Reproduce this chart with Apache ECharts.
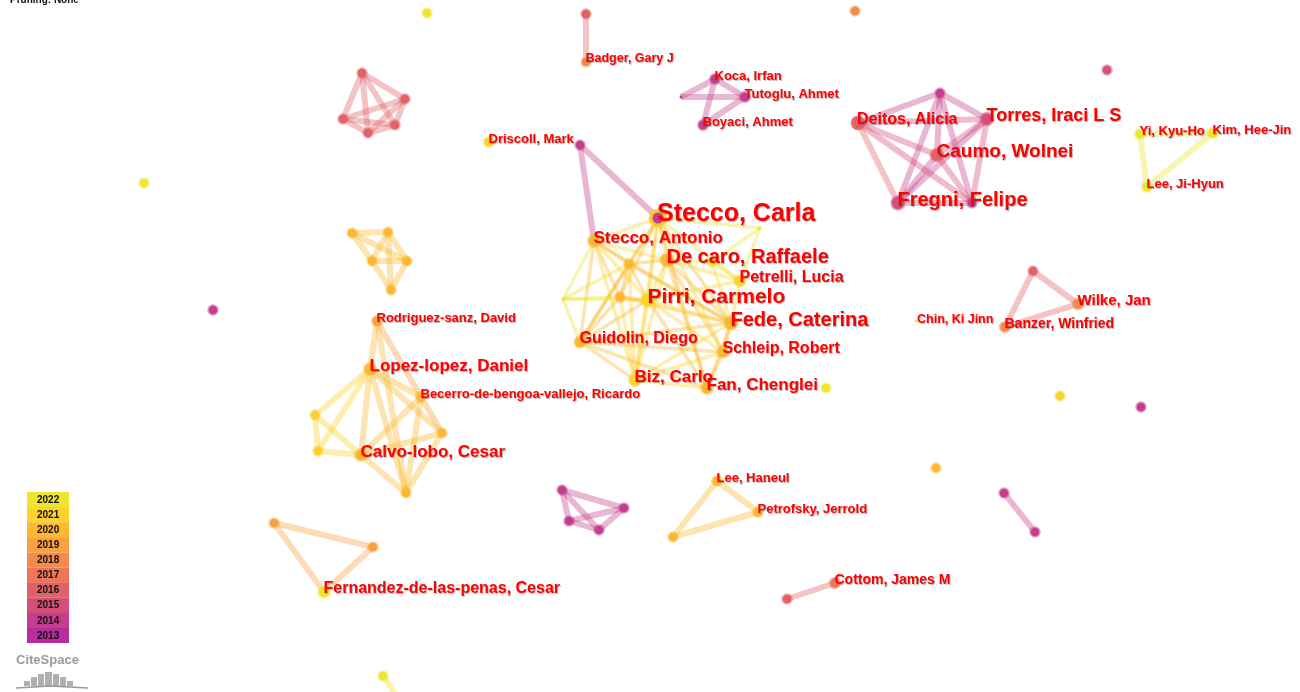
<!DOCTYPE html>
<html>
<head>
<meta charset="utf-8">
<script src="https://cdn.jsdelivr.net/npm/echarts@6/dist/echarts.min.js"></script>
<style>
html,body{margin:0;padding:0;background:#fff;}
#chart{width:1300px;height:692px;}
</style>
</head>
<body>
<div id="chart"></div>
<script>
// ---- data ----
const nodeLabels = [
 'Stecco, Carla','Stecco, Antonio','','De caro, Raffaele','','Petrelli, Lucia','','',
 'Pirri, Carmelo','Fede, Caterina','Guidolin, Diego','Schleip, Robert','Biz, Carlo','Fan, Chenglei','','',
 '','Driscoll, Mark','Badger, Gary J','','','','','',
 '','Koca, Irfan','Tutoglu, Ahmet','Boyaci, Ahmet','','','Deitos, Alicia','Torres, Iraci L S',
 'Caumo, Wolnei','Fregni, Felipe','','Yi, Kyu-Ho','Kim, Hee-Jin','Lee, Ji-Hyun','','',
 '','','','','','','','',
 'Rodriguez-sanz, David','Lopez-lopez, Daniel','Becerro-de-bengoa-vallejo, Ricardo','','','','Calvo-lobo, Cesar','',
 '','Wilke, Jan','Banzer, Winfried','Chin, Ki Jinn','','','','',
 '','','','','','Lee, Haneul','Petrofsky, Jerrold','',
 'Cottom, James M','','','','Fernandez-de-las-penas, Cesar','',''
];
// layout coordinates of the network (CiteSpace map space)
const nodeX = [
 658,594,629,667,712,740,563,620, 648,731,580,723,635,707,760,826,
 580,489,586,586,427,855,1107,144, 213,715,745,703,681,940,858,987,
 937,898,972,1140,1213,1147,362,405, 343,368,395,352,388,372,407,391,
 377,370,421,315,442,318,361,406, 1033,1078,1005,916,1060,1141,936,1004,
 1035,562,624,569,599,717,758,673, 835,787,274,373,324,383,398
];
const nodeY = [
 218,241,264,260,262,281,299,297, 300,323,342,352,380,388,228,388,
 145,142,62,14,13,11,70,183, 310,79,97,125,97,93,123,119,
 155,203,203,134,133,187,73,99, 119,133,125,233,232,261,261,290,
 321,369,397,415,433,451,455,493, 271,304,327,321,396,407,468,493,
 532,490,508,521,530,481,512,537, 583,599,523,547,592,676,698
];
// first-appearance year of each author
const nodeYear = [
 2021,2020,2020,2020,2022,2021,2022,2020, 2021,2020,2020,2020,2021,2020,2022,2022,
 2014,2021,2018,2016,2022,2018,2015,2022, 2014,2014,2014,2014,2014,2014,2016,2015,
 2016,2015,2014,2022,2022,2022,2016,2016, 2016,2016,2016,2020,2020,2020,2020,2020,
 2019,2020,2020,2021,2020,2021,2020,2020, 2016,2018,2018,2022,2021,2014,2020,2014,
 2014,2014,2014,2014,2014,2020,2020,2020, 2017,2016,2019,2019,2022,2022,2022
];
// publication counts
const nodeCount = [
 16,8,4,11,3,7,0,4, 12,11,7,7,8,8,0,3,
 3,4,2,3,3,3,3,3, 3,4,4,4,0,3,7,9,
 10,11,3,4,4,4,3,3, 3,3,3,3,3,3,3,3,
 4,8,4,3,3,3,8,3, 3,6,5,0,3,3,3,3,
 3,3,3,3,3,4,4,3, 5,3,3,3,7,3,0
];
// earliest citing year in the centre ring (where it differs)
const innerYear = {0:2014, 30:2016};
// co-authorship links: [source, target, year]
const links = [
 [0,1,2021],[0,2,2021],[0,3,2021],[0,7,2020],[0,8,2021],[0,9,2020],[0,10,2020],[0,12,2021],[0,13,2020],[0,11,2021],[0,5,2022],[0,14,2022],
 [1,2,2020],[1,3,2021],[1,7,2020],[1,8,2021],[1,9,2020],[1,10,2020],[1,12,2021],
 [2,3,2020],[2,7,2020],[2,8,2020],[2,9,2020],[2,10,2020],[2,12,2021],[2,6,2022],
 [3,4,2022],[3,5,2021],[3,8,2021],[3,9,2020],[3,11,2020],[3,12,2021],[3,13,2020],
 [4,5,2022],[4,14,2022],[4,9,2022],[5,8,2021],[5,9,2021],[5,14,2022],
 [6,7,2022],[6,8,2022],[6,10,2022],[6,1,2022],
 [7,8,2020],[7,9,2020],[7,10,2020],[7,12,2021],
 [8,9,2021],[8,10,2020],[8,11,2021],[8,12,2021],[8,13,2020],
 [9,10,2020],[9,11,2020],[9,12,2021],[9,13,2020],
 [10,12,2020],[10,13,2020],[10,11,2020],[11,12,2021],[11,13,2020],[12,13,2021],
 [16,0,2014],[16,1,2014],
 [18,19,2016],
 [28,25,2014],[28,26,2014],[25,26,2014],[25,27,2014],[26,27,2014],
 [29,30,2014],[29,31,2014],[29,32,2014],[29,33,2014],[29,34,2014],[30,31,2015],[30,32,2015],[30,33,2016],[30,34,2015],
 [31,32,2015],[31,33,2014],[31,34,2015],[32,33,2014],[32,34,2015],[33,34,2015],
 [35,36,2022],[36,37,2022],[35,37,2022],
 [38,39,2016],[38,40,2016],[38,41,2016],[38,42,2016],[39,40,2016],[39,41,2016],[39,42,2016],[40,41,2016],[40,42,2016],[41,42,2016],
 [43,44,2020],[43,45,2020],[43,46,2020],[44,45,2020],[44,46,2020],[44,47,2020],[45,46,2020],[45,47,2020],[46,47,2020],
 [48,49,2020],[48,52,2019],[48,55,2020],[49,50,2020],[49,51,2021],[49,53,2021],[49,54,2020],[49,55,2020],[49,52,2020],
 [50,54,2020],[50,55,2020],[51,53,2021],[51,54,2021],[53,54,2021],[54,55,2020],[52,55,2020],[52,54,2020],
 [56,57,2016],[56,58,2016],[57,58,2016],
 [63,64,2014],
 [65,66,2014],[65,67,2014],[65,68,2014],[66,67,2014],[66,68,2014],[67,68,2014],
 [69,70,2020],[69,71,2020],[70,71,2020],
 [72,73,2016],
 [74,75,2019],[74,76,2019],[75,76,2019],
 [77,78,2022]
];
const legendYears = [2022,2021,2020,2019,2018,2017,2016,2015,2014,2013];

// ---- styles ----
const yearColor = {2013:'#b52d9e',2014:'#c43e8e',2015:'#d4507a',2016:'#e16167',2017:'#ec7657',
  2018:'#f38b4c',2019:'#f9a040',2020:'#fbb830',2021:'#fcd22c',2022:'#ede52f'};
function rgba(hex,a){const n=parseInt(hex.slice(1),16);return 'rgba('+(n>>16)+','+((n>>8)&255)+','+(n&255)+','+a+')';}

const nodes = nodeLabels.map((lab,i)=>{
  const c = nodeCount[i];
  const size = c===0 ? 3 : 7 + 0.5*c;
  const font = Math.max(12.5, 9 + c);
  const col = yearColor[nodeYear[i]];
  const inner = innerYear[i] ? yearColor[innerYear[i]] : col;
  return {
    name:'n'+i,
    value:[nodeX[i],nodeY[i]],
    symbolSize:size,
    itemStyle:{color:inner,borderColor:rgba(col, innerYear[i]?0.9:0.5),borderWidth:c===0?0:(innerYear[i]?4:3)},
    label:{show:!!lab,formatter:lab,position:[size/2+1,size/2-1.5],align:'left',verticalAlign:'middle',
      fontSize:font,fontWeight:'bold',color:'#ff0000',fontFamily:'"Liberation Sans", Arial, sans-serif',
      textShadowColor:'rgba(90,90,90,0.45)',textShadowBlur:1,textShadowOffsetX:1,textShadowOffsetY:1}
  };
});
const edges = links.map(([s,t,y])=>({
  source:'n'+s,target:'n'+t,
  lineStyle:{color:yearColor[y],width:(s<=15&&t<=15)?3.5:6,opacity:0.38,curveness:0}
}));

const legendGraphics = [];
legendYears.forEach((y,k)=>{
  legendGraphics.push({type:'rect',left:27,top:492+k*15.1,shape:{width:42,height:15.2},style:{fill:yearColor[y]},silent:true});
  legendGraphics.push({type:'text',left:37,top:492+k*15.1+3,style:{text:String(y),fontSize:10,fontWeight:'bold',fill:'#111',fontFamily:'"Liberation Sans", Arial, sans-serif'},silent:true});
});
// CiteSpace logo
legendGraphics.push({type:'text',left:16,top:654,style:{text:'CiteSpace',fontSize:13,fontWeight:'bold',fill:'#9a9a9a',fontFamily:'"Liberation Sans", Arial, sans-serif'}});
const bars=[[24,681,6,5],[31,677,6,9],[38,674,6,12],[45,672,7,14],[53,674,6,12],[60,677,6,9],[67,681,6,5]];
bars.forEach(b=>legendGraphics.push({type:'rect',left:b[0],top:b[1],shape:{width:b[2],height:b[3]},style:{fill:'#b0b0b0'}}));
legendGraphics.push({type:'polyline',shape:{points:[[16,688],[50,686],[88,688]]},style:{stroke:'#999',lineWidth:1.5,fill:null}});
legendGraphics.push({type:'text',left:10,top:-5,style:{text:'Pruning: None',fontSize:10,fontWeight:'bold',fill:'#111',fontFamily:'"Liberation Sans", Arial, sans-serif'}});

const chart = echarts.init(document.getElementById('chart'));
chart.setOption({
  animation:false,
  backgroundColor:'#ffffff',
  grid:{left:0,right:0,top:0,bottom:0},
  xAxis:{type:'value',min:0,max:1300,show:false},
  yAxis:{type:'value',min:0,max:692,inverse:true,show:false},
  graphic:legendGraphics,
  series:[{
    type:'graph',
    coordinateSystem:'cartesian2d',
    layout:'none',
    data:nodes,
    links:edges,
    edgeSymbol:['none','none'],
    emphasis:{disabled:true},
    labelLayout:{hideOverlap:false}
  }]
});
</script>
</body>
</html>
